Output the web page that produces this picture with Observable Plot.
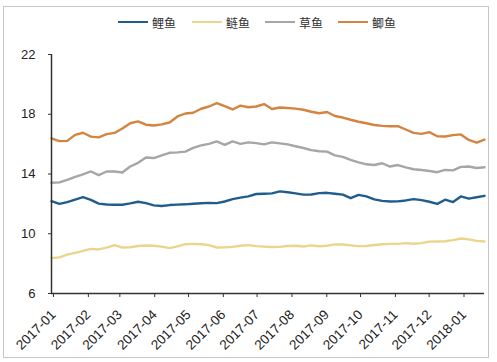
<!DOCTYPE html>
<html><head><meta charset="utf-8">
<script src="https://cdn.jsdelivr.net/npm/d3@7"></script>
<script src="https://cdn.jsdelivr.net/npm/@observablehq/plot@0.6"></script>
<style>
body{margin:0;background:#fff;}
#wrap{position:relative;width:497px;height:362px;overflow:hidden;background:#fff;}
#frame{position:absolute;left:3px;top:6px;width:486px;height:352px;border:1.5px solid #c6c6c6;box-sizing:border-box;}
#legend{position:absolute;top:14px;left:0;width:497px;height:16px;}
.item{position:absolute;top:0;height:16px;display:flex;align-items:center;font-family:"Noto Sans CJK SC",sans-serif;font-size:12px;color:#333;}
.sw{width:30px;height:2.5px;margin-right:4px;}
#chart{position:absolute;left:0;top:30px;}
</style></head>
<body>
<div id="wrap"><div id="frame"></div><div id="legend"></div><div id="chart"></div></div>
<script>
const seriesNames = ["鲤鱼", "鲢鱼", "草鱼", "鲫鱼"];
const seriesColors = ["#215d8c", "#ead58c", "#a6a6a6", "#d5843f"];
const monthTicks = ["2017-01","2017-02","2017-03","2017-04","2017-05","2017-06","2017-07","2017-08","2017-09","2017-10","2017-11","2017-12","2018-01"];
const yTicks = [6, 10, 14, 18, 22];
const dates = [
 "2017-01-01","2017-01-08","2017-01-15","2017-01-22","2017-01-29",
 "2017-02-05","2017-02-12","2017-02-19","2017-02-26",
 "2017-03-05","2017-03-12","2017-03-19","2017-03-26",
 "2017-04-02","2017-04-09","2017-04-16","2017-04-23","2017-04-30",
 "2017-05-07","2017-05-14","2017-05-21","2017-05-28",
 "2017-06-04","2017-06-11","2017-06-18","2017-06-25",
 "2017-07-02","2017-07-09","2017-07-16","2017-07-23","2017-07-30",
 "2017-08-06","2017-08-13","2017-08-20","2017-08-27",
 "2017-09-03","2017-09-10","2017-09-17","2017-09-24",
 "2017-10-01","2017-10-08","2017-10-15","2017-10-22","2017-10-29",
 "2017-11-05","2017-11-12","2017-11-19","2017-11-26",
 "2017-12-03","2017-12-10","2017-12-17","2017-12-24","2017-12-31",
 "2018-01-07","2018-01-14","2018-01-21"];
const liyu = [12.18,12.0,12.12,12.28,12.45,12.27,12.02,11.96,11.94,11.94,12.03,12.14,12.05,11.9,11.86,11.92,11.95,11.97,12.01,12.04,12.07,12.05,12.16,12.32,12.42,12.5,12.66,12.68,12.7,12.84,12.78,12.7,12.62,12.63,12.72,12.74,12.68,12.62,12.38,12.6,12.5,12.3,12.2,12.16,12.17,12.23,12.32,12.25,12.14,12.0,12.28,12.12,12.5,12.35,12.44,12.54];
const lianyu = [8.37,8.42,8.6,8.72,8.85,8.99,8.95,9.07,9.24,9.08,9.1,9.18,9.21,9.2,9.14,9.04,9.15,9.3,9.32,9.3,9.24,9.08,9.09,9.12,9.2,9.24,9.17,9.14,9.11,9.12,9.18,9.2,9.15,9.22,9.16,9.2,9.29,9.28,9.22,9.17,9.18,9.25,9.3,9.32,9.32,9.37,9.33,9.37,9.47,9.48,9.5,9.57,9.68,9.62,9.52,9.48];
const caoyu = [13.41,13.44,13.6,13.8,13.98,14.17,13.92,14.17,14.17,14.1,14.5,14.75,15.1,15.07,15.25,15.42,15.45,15.5,15.75,15.92,16.02,16.18,15.95,16.18,16.02,16.12,16.07,15.98,16.12,16.05,15.98,15.86,15.74,15.6,15.52,15.5,15.25,15.15,14.95,14.78,14.65,14.6,14.72,14.5,14.6,14.44,14.32,14.27,14.2,14.12,14.27,14.24,14.48,14.5,14.4,14.45];
const jiyu = [16.38,16.2,16.22,16.62,16.76,16.5,16.45,16.67,16.75,17.05,17.4,17.52,17.3,17.25,17.32,17.45,17.85,18.05,18.1,18.37,18.52,18.75,18.55,18.32,18.58,18.47,18.52,18.68,18.35,18.45,18.42,18.38,18.3,18.17,18.07,18.15,17.88,17.78,17.63,17.5,17.4,17.28,17.22,17.2,17.2,16.98,16.75,16.69,16.8,16.53,16.51,16.6,16.65,16.28,16.1,16.3];

const seriesValues = [liyu, lianyu, caoyu, jiyu];
const parse = d3.utcParse("%Y-%m-%d");
const rows = [];
seriesNames.forEach((name, k) => {
  dates.forEach((d, i) => rows.push({date: parse(d), value: seriesValues[k][i], series: name}));
});
const tickDates = monthTicks.map(m => parse(m + "-01"));

// legend
const legendLeft = [118, 192, 265, 338];
const legend = document.getElementById("legend");
seriesNames.forEach((n, k) => {
  const it = document.createElement("div");
  it.className = "item";
  it.style.left = legendLeft[k] + "px";
  it.innerHTML = `<span class="sw" style="background:${seriesColors[k]}"></span><span>${n}</span>`;
  legend.appendChild(it);
});

const x0 = parse(dates[0]), x1 = parse(dates[dates.length - 1]);
const chart = Plot.plot({
  width: 497,
  height: 332,
  marginLeft: 51,
  marginRight: 13,
  marginTop: 24,
  marginBottom: 69,
  style: {fontFamily: "'Liberation Sans', Arial, sans-serif", fontSize: "13px", color: "#222", background: "transparent"},
  x: {type: "utc", domain: [x0, x1], label: null},
  y: {domain: [6, 22], label: null},
  color: {domain: seriesNames, range: seriesColors},
  marks: [
    Plot.lineY(rows, {x: "date", y: "value", stroke: "series", strokeWidth: 2.4, curve: "linear"}),
    Plot.ruleX([x0], {stroke: "#333", strokeWidth: 1.5}),
    Plot.ruleY([6], {stroke: "#333", strokeWidth: 1.5}),
    Plot.axisY({ticks: yTicks, tickSize: 3, tickPadding: 13, stroke: "#333", fontSize: 13, label: null}),
    Plot.axisX({ticks: tickDates, tickFormat: d3.utcFormat("%Y-%m"), tickSize: 4, tickPadding: 15, tickRotate: -45, dx: 2, stroke: "#333", fontSize: 13.5, label: null})
  ]
});
document.getElementById("chart").appendChild(chart);
</script>
</body></html>
